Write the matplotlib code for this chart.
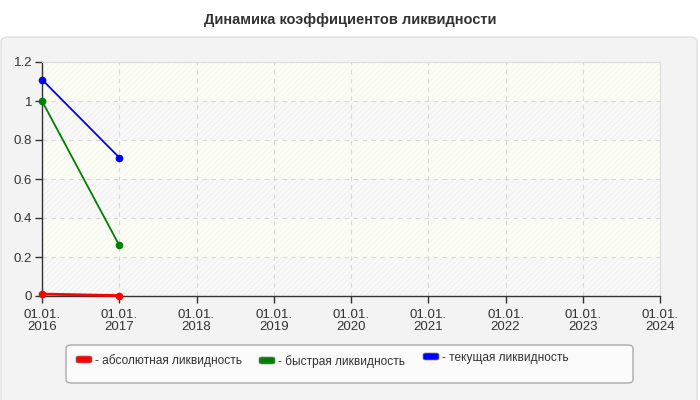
import matplotlib
matplotlib.use("Agg")
import matplotlib.pyplot as plt
from matplotlib.patches import FancyBboxPatch

plt.rcParams['font.family'] = ['Liberation Sans', 'DejaVu Sans']

title = "Динамика коэффициентов ликвидности"
years = [2016, 2017, 2018, 2019, 2020, 2021, 2022, 2023, 2024]
tick_labels = [f"01.01.\n{y}" for y in years]
data_years = [2016, 2017]
absolute = [0.01, 0.002]
quick = [1.0, 0.26]
current = [1.11, 0.71]
series_names = ["- абсолютная ликвидность", "- быстрая ликвидность", "- текущая ликвидность"]
series_colors = ["#ff0000", "#008000", "#0000ff"]

fig = plt.figure(figsize=(7, 4), dpi=100)
fig.patch.set_facecolor('white')

panel = FancyBboxPatch((1/700, -0.02), 696/700, (400-37)/400 + 0.02,
                       boxstyle="round,pad=0,rounding_size=0.012",
                       transform=fig.transFigure, facecolor='#f3f3f3',
                       edgecolor='#e0e0e0', linewidth=1, zorder=-10)
fig.patches.append(panel)

fig.text(0.5, 1 - 20/400, title, ha='center', va='center', fontsize=10.5,
         fontweight='bold', color='#333333')

ax = fig.add_axes([42/700, 1 - 296/400, (660-42)/700, (296-62)/400])
ax.set_zorder(5)
ax.set_facecolor('#fafafa')
plt.rcParams['hatch.linewidth'] = 0.5
bands = [0, 0.2, 0.4, 0.6, 0.8, 1.0, 1.2]
for i in range(len(bands) - 1):
    if i % 2 == 1:
        fc, hc = '#fcfdf5', '#f2f3ea'
    else:
        fc, hc = '#f9f9f9', '#ebebeb'
    ax.axhspan(bands[i], bands[i+1], facecolor=fc, edgecolor=hc, hatch='//////',
               linewidth=0, zorder=0)

ax.set_xlim(2016, 2024)
ax.set_ylim(0, 1.2)
ax.set_xticks(years)
ax.set_xticklabels(tick_labels)
ax.set_yticks([0, 0.2, 0.4, 0.6, 0.8, 1.0, 1.2])
ax.set_yticklabels(['0', '0.2', '0.4', '0.6', '0.8', '1', '1.2'])
ax.grid(True, color='#d8d8d8', linestyle=(0, (4, 4)), linewidth=0.8, zorder=1)
ax.set_axisbelow(True)
for s in ['top', 'right']:
    ax.spines[s].set_color('#dddddd')
for s in ['left', 'bottom']:
    ax.spines[s].set_color('#333333')
    ax.spines[s].set_linewidth(1)
ax.tick_params(axis='both', colors='#333333', labelsize=9.5, length=5, width=1,
               labelcolor='#333333')
ax.tick_params(axis='x', pad=4)
ax.tick_params(axis='y', pad=2)
for lab in ax.get_xticklabels():
    lab.set_linespacing(1.0)

for vals, c, lw in zip([absolute, quick, current], series_colors, [2.0, 1.3, 1.3]):
    ax.plot(data_years, vals, color=c, linewidth=lw, marker='o', markersize=4.5,
            zorder=5, clip_on=False)

# legend box
leg = FancyBboxPatch((66/700, 1 - 383/400), (633-66)/700, 38/400,
                     boxstyle="round,pad=0,rounding_size=0.008",
                     transform=fig.transFigure, facecolor='#fafafa',
                     edgecolor='#aaaaaa', linewidth=1, zorder=2)
fig.patches.append(leg)
item_x = [76, 259, 423]
item_y = [361, 362, 358]
for name, c, x, y in zip(series_names, series_colors, item_x, item_y):
    r = FancyBboxPatch((x/700, 1 - (y+2)/400), 16/700, 7/400,
                       boxstyle="round,pad=0,rounding_size=0.004",
                       transform=fig.transFigure, facecolor=c,
                       edgecolor='#888888', linewidth=0.5, zorder=3)
    fig.patches.append(r)
    fig.text((x + 19)/700, 1 - y/400, name, ha='left', va='center', fontsize=8.6,
             color='#333333', zorder=4)

fig.savefig('out.png', dpi=100, facecolor=fig.get_facecolor())
